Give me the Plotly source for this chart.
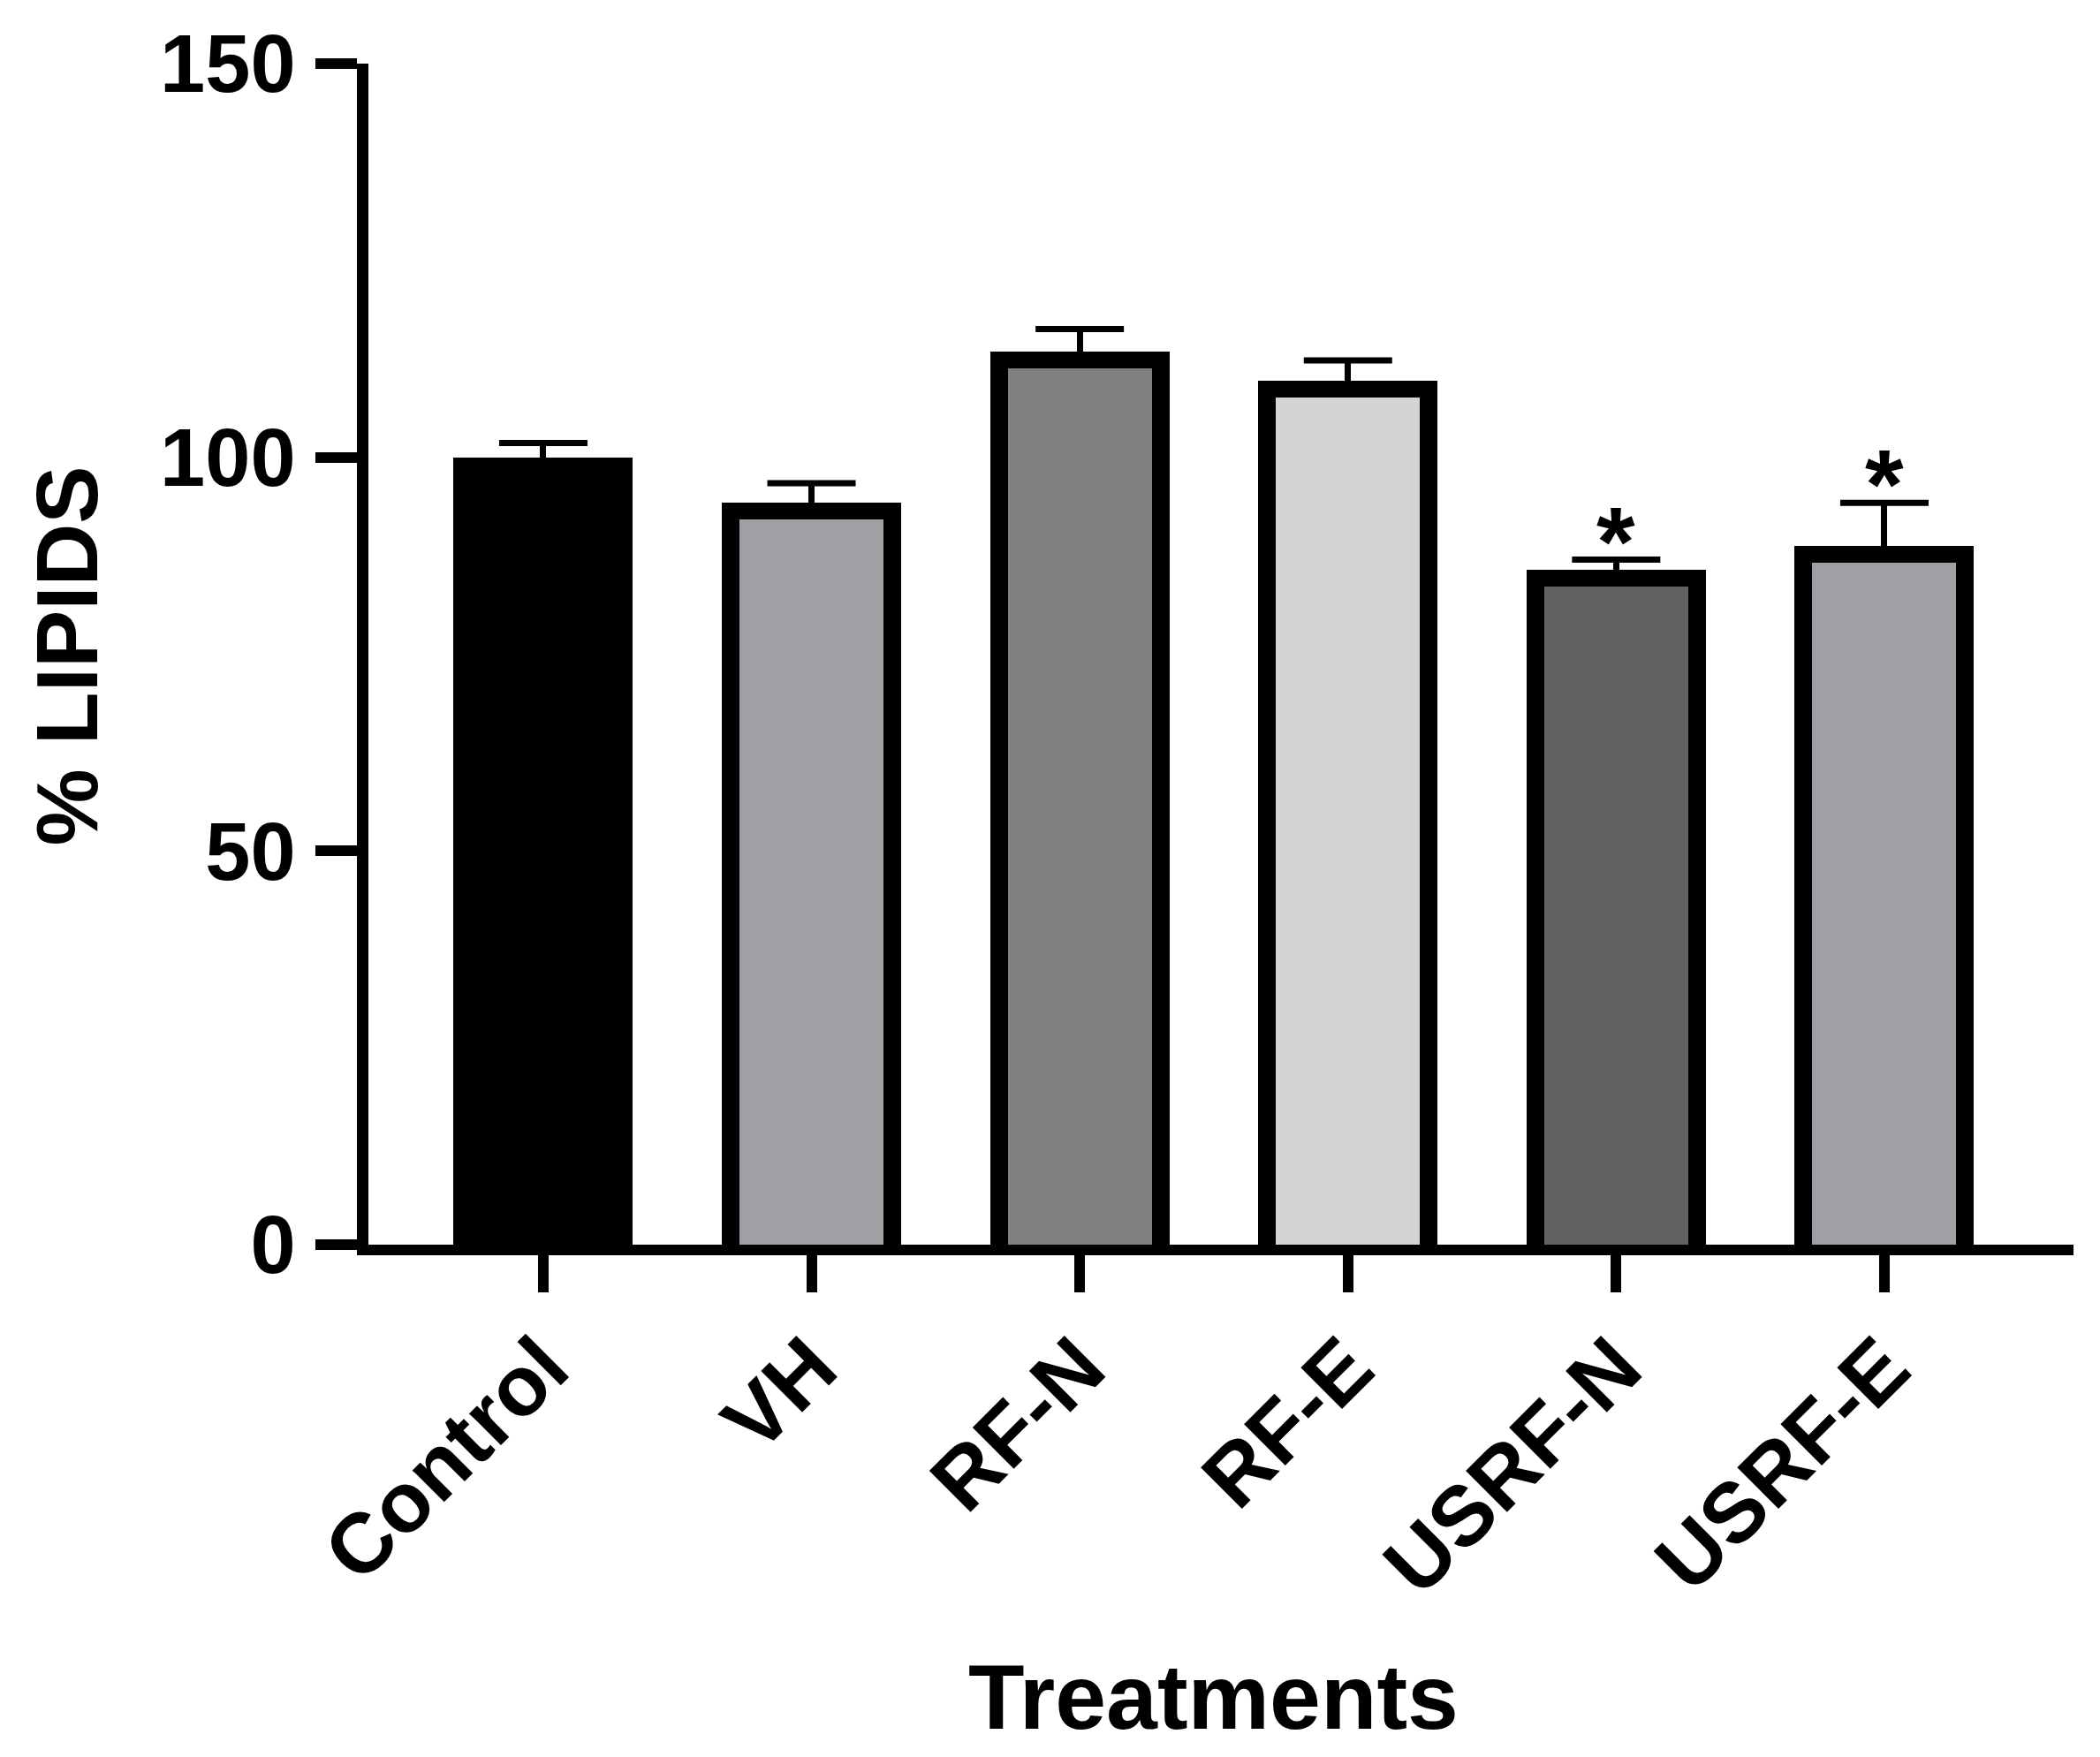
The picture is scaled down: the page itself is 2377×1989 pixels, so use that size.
import plotly.graph_objects as go

# ---- data ----
categories = ["Control", "VH", "RF-N", "RF-E", "USRF-N", "USRF-E"]
means = [100.0, 94.2, 113.4, 109.7, 85.7, 88.7]
sem = [1.8, 2.5, 2.9, 2.6, 1.3, 5.5]
fill_colors = ["#000000", "#a09fa4", "#808080", "#d4d4d4", "#626262", "#a09fa4"]
significant = [False, False, False, False, True, True]
y_ticks = [0, 50, 100, 150]
y_title = "% LIPIDS"
x_title = "Treatments"

# ---- style ----
FONT = "Liberation Sans, Arial, Helvetica, sans-serif"
W, H = 2377, 1989
ML, MR, MT, MB = 417, 30, 72, 580
X_RANGE = [-0.652, 5.705]
Y_RANGE = [0, 150]
plot_w = W - ML - MR
plot_h = H - MT - MB
px_per_x = plot_w / (X_RANGE[1] - X_RANGE[0])
px_per_y = plot_h / (Y_RANGE[1] - Y_RANGE[0])

outer_w_px = 203
border_side_px = 20
border_top_px = 19
outer_width = outer_w_px / px_per_x
inner_width = (outer_w_px - 2 * border_side_px) / px_per_x
inner_tops = [m - border_top_px / px_per_y for m in means]
err_tops = [m + s for m, s in zip(means, sem)]

fig = go.Figure()
# black outline (outer bar) with the SEM stem (upper only, no caps)
fig.add_trace(go.Bar(
    x=categories, y=means, width=outer_width,
    marker=dict(color="black", line=dict(width=0)),
    error_y=dict(type="data", array=sem, arrayminus=[0] * len(sem), symmetric=False,
                 color="black", thickness=7, width=0),
    hoverinfo="skip",
))
# coloured fill inside the outline
fig.add_trace(go.Bar(
    x=categories, y=inner_tops, width=inner_width,
    marker=dict(color=fill_colors, line=dict(width=0)),
    hoverinfo="skip",
))
# caps at the top of the SEM bars
fig.add_trace(go.Scatter(
    x=categories, y=err_tops, mode="markers",
    marker=dict(size=1, opacity=0),
    error_y=dict(type="data", array=[0] * len(sem), color="black", thickness=7, width=50),
    hoverinfo="skip",
))

annotations = []
for cat, top, sig in zip(categories, err_tops, significant):
    if sig:
        annotations.append(dict(
            x=cat, y=top, xref="x", yref="y", text="*", showarrow=False,
            yanchor="bottom", xanchor="center", yshift=-44,
            font=dict(family=FONT, size=112, color="black", weight="bold"),
        ))

annotations.append(dict(
    x=0, y=0.5, xref="paper", yref="paper", xanchor="center", yanchor="middle",
    xshift=75 - ML, yshift=-2, text=y_title, textangle=-90, showarrow=False,
    font=dict(family=FONT, size=98, color="black", weight="bold"),
))
annotations.append(dict(
    x=(1373 - ML) / plot_w, y=0, xref="paper", yref="paper", xanchor="center",
    yanchor="top", yshift=-452, text=x_title, showarrow=False,
    font=dict(family=FONT, size=104, color="black", weight="bold"),
))

fig.update_layout(
    width=W, height=H,
    margin=dict(l=ML, r=MR, t=MT, b=MB, pad=0),
    paper_bgcolor="white", plot_bgcolor="white",
    barmode="overlay", bargap=0, showlegend=False,
    annotations=annotations,
    xaxis=dict(
        range=X_RANGE, showgrid=False, zeroline=False,
        showline=True, linewidth=12, linecolor="black",
        ticks="outside", ticklen=42, tickwidth=12, tickcolor="black",
        tickangle=-45, ticklabelstandoff=-10,
        tickfont=dict(family=FONT, size=96, color="black", weight="bold"),
    ),
    yaxis=dict(
        range=Y_RANGE, tickvals=y_ticks, showgrid=False, zeroline=False,
        showline=True, linewidth=13, linecolor="black",
        ticks="outside", ticklen=47, tickwidth=12, tickcolor="black",
        ticklabelstandoff=4,
        tickfont=dict(family=FONT, size=92, color="black", weight="bold"),
    ),
)

fig.write_html("out.html", config={"displayModeBar": False},
               post_script="document.body.style.margin='0';")
